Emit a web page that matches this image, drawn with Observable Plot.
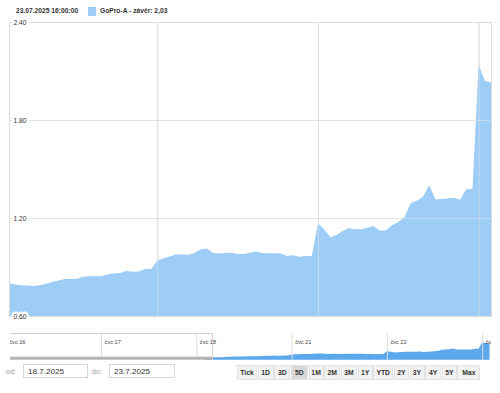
<!DOCTYPE html>
<html>
<head>
<meta charset="utf-8">
<script src="https://cdn.jsdelivr.net/npm/d3@7"></script>
<script src="https://cdn.jsdelivr.net/npm/@observablehq/plot@0.6"></script>
<style>
  html, body { margin: 0; padding: 0; background: #fff; overflow: hidden; }
  body { width: 500px; height: 393px; position: relative; font-family: "Liberation Sans", Arial, sans-serif; }
  .abs { position: absolute; }
  #legend { left: 0; top: 0; width: 500px; height: 20px; font-size: 6.7px; font-weight: bold; color: #333; }
  #stamp { left: 16px; top: 7px; }
  #swatch { left: 88px; top: 7px; width: 8px; height: 9px; }
  #series { left: 100px; top: 7px; }
  #main { left: 0; top: 0; }
  #nav { left: 0; top: 330px; }
  .lbl { font-size: 7px; color: #999; top: 368px; }
  .inp { top: 364px; height: 14px; border: 1px solid #d6d6d6; box-sizing: border-box; font-size: 8.1px; color: #333; padding-left: 4px; line-height: 13px; background: #fff; }
  .btn { top: 365px; height: 15px; box-sizing: border-box; background: #f2f2f2; border: 1px solid #e2e2e2; font-size: 6.8px; font-weight: bold; color: #333; text-align: center; line-height: 13px; }
  .btn.sel { background: #d9d9d9; }
</style>
</head>
<body>
<div id="legend" class="abs">
  <div id="stamp" class="abs"></div>
  <div id="swatch" class="abs"></div>
  <div id="series" class="abs"></div>
</div>
<div id="main" class="abs"></div>
<div id="nav" class="abs"></div>
<div id="controls"></div>
<script>
// ---- data (15-minute closes, US session 15:30–22:00 CEST) ----
const seriesName = "GoPro-A";
const stampLabel = "23.07.2025 16:00:00";
const day18 = [0.800,0.793,0.789,0.786,0.784,0.789,0.798,0.808,0.818,0.826,0.827,0.828,0.840,0.843,0.843,0.843,0.855,0.860,0.864,0.876,0.871,0.872,0.888,0.888]; // 16:00–21:45
const day21 = [0.939,0.953,0.965,0.976,0.976,0.975,0.985,1.008,1.013,0.985,0.982,0.985,0.988,0.980,0.979,0.988,0.995,0.985,0.984,0.984,0.982,0.967,0.972,0.962,0.967,0.967];
const day22 = [1.168,1.131,1.082,1.096,1.120,1.137,1.131,1.131,1.140,1.151,1.122,1.125,1.155,1.175,1.205,1.290,1.305,1.330,1.400,1.314,1.317,1.320,1.324,1.312,1.376,1.378];
const day23 = [2.137,2.041,2.030]; // 15:30, 15:45, 16:00
const yTicks = [0.60, 1.20, 1.80, 2.40];
const navDays = ["čvc 16", "čvc 17", "čvc 18", "čvc 21", "čvc 22", "čvc 23"];
const fromDate = "18.7.2025";
const toDate = "23.7.2025";
const buttons = ["Tick","1D","3D","5D","1M","2M","3M","1Y","YTD","2Y","3Y","4Y","5Y","Max"];
const selectedButton = "5D";

// ---- build table ----
const slotsPerDay = 26;
const days = [day18, day21, day22, day23];
const firstSlot = slotsPerDay - day18.length; // first visible slot within day 18
const data = [];
let idx = 0;
const dayStarts = [];
days.forEach((d, di) => {
  if (di > 0) dayStarts.push(idx);
  d.forEach(v => { data.push({x: idx, v}); idx++; });
});
const lastX = idx - 1;
const last = data[data.length - 1].v;

const areaColor = "#9dcdf6";
const navColor = "#5ca8ec";

document.getElementById("stamp").textContent = stampLabel;
document.getElementById("swatch").style.background = areaColor;
document.getElementById("series").textContent = `${seriesName} - závěr: ${last.toFixed(2).replace(".", ",")}`;

// ---- main chart ----
const main = Plot.plot({
  width: 500, height: 322,
  marginTop: 22, marginBottom: 6, marginLeft: 9, marginRight: 9,
  x: {domain: [0, lastX], axis: null},
  y: {domain: [0.6, 2.4], axis: null},
  style: {fontFamily: "Liberation Sans, Arial, sans-serif", background: "transparent"},
  marks: [
    Plot.ruleY(yTicks, {stroke: "#dcdcdc"}),
    Plot.ruleX(dayStarts, {stroke: "#dcdcdc"}),
    Plot.areaY(data, {x: "x", y1: 0.6, y2: "v", fill: areaColor, curve: "linear"}),
    Plot.ruleX(dayStarts, {stroke: "#e4e4e4", strokeOpacity: 0.55}),
    Plot.ruleY(yTicks, {stroke: "#e4e4e4", strokeOpacity: 0.55}),
    Plot.frame({stroke: "#dcdcdc"}),
    Plot.text(yTicks, {x: 0, y: d => d, text: d => d.toFixed(2), dx: 4, textAnchor: "start",
      fontSize: 6.7, fill: "#333", stroke: "white", strokeWidth: 5, strokeLinejoin: "round"})
  ]
});
document.getElementById("main").appendChild(main);

// ---- navigator ----
// nav x in global slots counted from the start of 16.7.
const dataStartDay = 2; // 18.7. is the 3rd navigator day
const navData = data.map(d => ({g: dataStartDay * slotsPerDay + firstSlot + d.x, v: d.v}));
const navDayStarts = navDays.map((_, i) => i * slotsPerDay);
const navDomain = [1.15, navData[navData.length - 1].g + 0.4];
const maskEnd = navData[0].g + 2.3;
const navY = [0.666, 3.95];
const nav = Plot.plot({
  width: 500, height: 30,
  marginTop: 3, marginBottom: 0, marginLeft: 10, marginRight: 9,
  x: {domain: navDomain, axis: null},
  y: {type: "log", domain: navY, range: [29.7, 3], axis: null},
  style: {fontFamily: "Liberation Sans, Arial, sans-serif", background: "transparent"},
  marks: [
    Plot.areaY(navData, {x: "g", y1: navY[0], y2: "v", fill: navColor, curve: "linear"}),
    Plot.ruleX(navDayStarts.slice(1), {stroke: "#dedede", y1: navY[0], y2: navY[1]}),
    Plot.rect([0], {x1: navDomain[0], x2: maskEnd, y1: navY[0], y2: 0.813, fill: "#b3b3b3"}),
    Plot.ruleY([navY[1]], {x1: navDomain[0], x2: maskEnd, stroke: "#d0d0d0"}),
    Plot.ruleX([maskEnd], {y1: navY[0], y2: navY[1], stroke: "#d0d0d0"}),
    Plot.text(navDays, {x: (d, i) => navDayStarts[i], frameAnchor: "top", dy: 7, text: d => d, dx: 3,
      textAnchor: "start", fontSize: 5.6, fill: "#444", clip: true})
  ]
});
document.getElementById("nav").appendChild(nav);

// ---- controls ----
const ctr = document.getElementById("controls");
function add(cls, left, width, text) {
  const e = document.createElement("div");
  e.className = "abs " + cls;
  e.style.left = left + "px";
  if (width) e.style.width = width + "px";
  e.textContent = text;
  ctr.appendChild(e);
  return e;
}
add("lbl", 6, 0, "od:");
add("inp", 23, 65, fromDate);
add("lbl", 92, 0, "do:");
add("inp", 109, 66, toDate);
const btnWidths = [21, 17, 17, 18, 16, 17, 17, 16, 21, 16, 16, 17, 16, 24];
let bx = 237;
buttons.forEach((b, i) => {
  add("btn" + (b === selectedButton ? " sel" : ""), bx, btnWidths[i] - 1, b);
  bx += btnWidths[i] - 0.35;
});
</script>
</body>
</html>
